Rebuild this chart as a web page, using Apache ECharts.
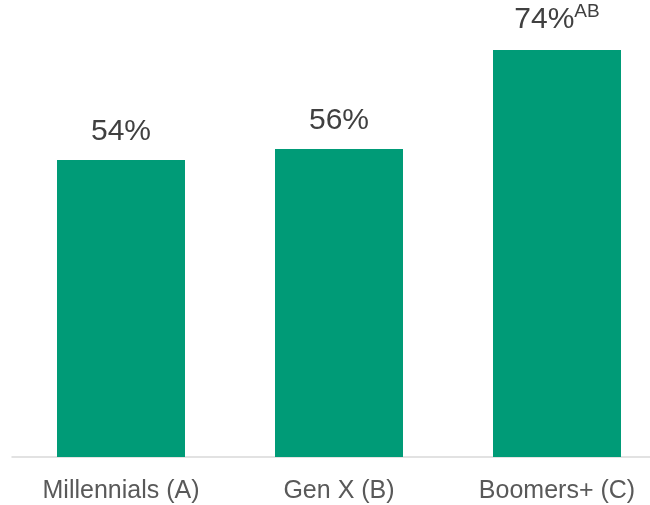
<!DOCTYPE html>
<html>
<head>
<meta charset="utf-8">
<script src="https://cdn.jsdelivr.net/npm/echarts@6/dist/echarts.min.js"></script>
<style>
  html, body { margin: 0; padding: 0; background: #fff; }
  #chart { width: 650px; height: 505px; }
</style>
</head>
<body>
<div id="chart"></div>
<script>
// Share by generation, with significance letters shown as superscripts
const categories = ['Millennials (A)', 'Gen X (B)', 'Boomers+ (C)'];
const values = [54, 56, 74];
const sigLetters = ['', '', 'AB'];

const chart = echarts.init(document.getElementById('chart'), null, { renderer: 'canvas' });

chart.setOption({
  animation: false,
  grid: { left: 12, width: 654, top: 17, bottom: 48, outerBoundsMode: 'none', containLabel: false },
  xAxis: {
    type: 'category',
    data: categories,
    axisLine: { show: true, lineStyle: { color: '#d9d9d9', width: 1.5 } },
    axisTick: { show: false },
    axisLabel: {
      color: '#595959',
      fontFamily: 'Liberation Sans, Arial, sans-serif',
      fontSize: 25,
      margin: 22
    }
  },
  yAxis: {
    type: 'value',
    min: 0,
    max: 80,
    show: false,
    splitLine: { show: false }
  },
  series: [{
    type: 'bar',
    data: values,
    barWidth: 128,
    itemStyle: { color: '#009b77' },
    label: {
      show: true,
      position: 'top',
      distance: 13,
      formatter: p => sigLetters[p.dataIndex]
        ? '{v|' + p.value + '%}{s|' + sigLetters[p.dataIndex] + '}'
        : '{v|' + p.value + '%}',
      rich: {
        v: {
          color: '#404040',
          fontFamily: 'Liberation Sans, Arial, sans-serif',
          fontSize: 30
        },
        s: {
          color: '#404040',
          fontFamily: 'Liberation Sans, Arial, sans-serif',
          fontSize: 19,
          padding: [0, 0, 16, 0]
        }
      }
    }
  }]
});
</script>
</body>
</html>
